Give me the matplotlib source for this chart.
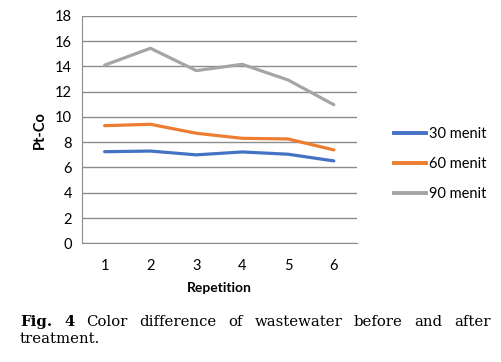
import matplotlib
matplotlib.use("Agg")
import matplotlib.pyplot as plt
from matplotlib.lines import Line2D

repetition = [1, 2, 3, 4, 5, 6]
menit_30 = [7.25, 7.3, 7.0, 7.23, 7.05, 6.52]
menit_60 = [9.31, 9.42, 8.71, 8.31, 8.26, 7.39]
menit_90 = [14.1, 15.44, 13.67, 14.17, 12.93, 10.97]
series_names = ["30 menit", "60 menit", "90 menit"]
y_ticks = [0, 2, 4, 6, 8, 10, 12, 14, 16, 18]

colors = ["#4472C4", "#ED7D31", "#A5A5A5"]
grid_c = "#8C8C8C"

fig = plt.figure(figsize=(5.02, 3.62), dpi=100)
ax = fig.add_axes([0.1627, 0.328, 0.548, 0.628])

for vals, c, name in zip([menit_30, menit_60, menit_90], colors, series_names):
    ax.plot(repetition, vals, color=c, lw=2.3, label=name, solid_capstyle="round")

ax.set_xlim(0.5, 6.5)
ax.set_ylim(0, 18)
ax.set_yticks(y_ticks)
ax.set_xticks(repetition)
ax.grid(axis="y", color=grid_c, lw=1)
ax.set_axisbelow(True)
for s in ["top", "right"]:
    ax.spines[s].set_visible(False)
ax.spines["left"].set_color(grid_c)
ax.spines["bottom"].set_color(grid_c)
ax.tick_params(length=0, labelsize=10.5, pad=7)
ax.tick_params(axis="x", pad=11)
for lab in ax.get_xticklabels() + ax.get_yticklabels():
    lab.set_fontfamily("Lato")

ax.set_ylabel("Pt-Co", fontfamily="Lato", fontweight="bold", fontsize=10.5, labelpad=6)
ax.set_xlabel("Repetition", fontfamily="Lato", fontweight="bold", fontsize=10, labelpad=7)

handles = [Line2D([0], [0], color=c, lw=2.8) for c in colors]
leg = fig.legend(handles, series_names, loc="center left", bbox_to_anchor=(0.758, 0.547),
                 frameon=False, handlelength=2.2, handletextpad=0.2, labelspacing=1.1,
                 prop={"family": "Lato", "size": 10.5})

# caption, first line justified
fig.canvas.draw()
r = fig.canvas.get_renderer()
words = ["Fig.", "4", "Color", "difference", "of", "wastewater", "before", "and", "after"]
bold = [True, True] + [False] * 7
x0, x1 = 20, 491
y1 = 362 - 326
texts = []
for w, b in zip(words, bold):
    t = fig.text(0, y1 / 362, w, fontfamily="DejaVu Serif", fontsize=10.7,
                 fontweight="bold" if b else "normal", va="baseline")
    texts.append(t)
widths = [t.get_window_extent(r).width for t in texts]
gap = (x1 - x0 - sum(widths)) / (len(words) - 1)
x = x0
for t, wd in zip(texts, widths):
    t.set_x(x / 502)
    x += wd + gap
fig.text(x0 / 502, (362 - 343) / 362, "treatment.", fontfamily="DejaVu Serif",
         fontsize=10.7, va="baseline")

fig.savefig("out.png", dpi=100)
